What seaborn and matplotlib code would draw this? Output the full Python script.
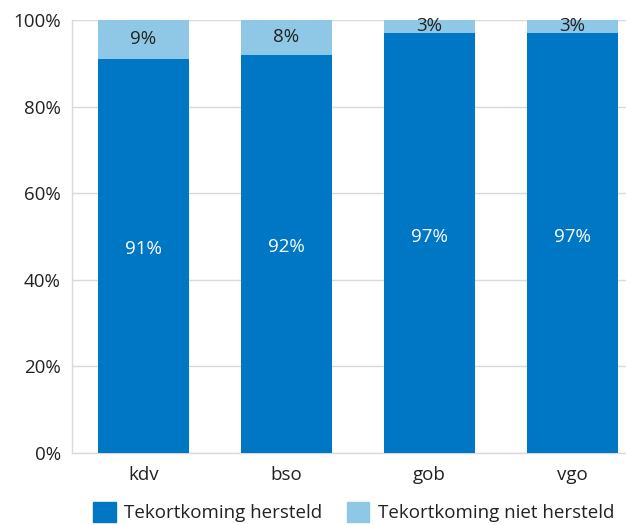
import pandas as pd
import seaborn as sns
import matplotlib.pyplot as plt
from matplotlib.patches import Patch

# Data
categories = ['kdv', 'bso', 'gob', 'vgo']
hersteld = [91, 92, 97, 97]
niet_hersteld = [9, 8, 3, 3]

dark = '#0077c4'
light = '#8ec8e6'

df = pd.DataFrame({'cat': categories, 'hersteld': hersteld, 'niet': niet_hersteld})
df['totaal'] = df['hersteld'] + df['niet']

sns.set_style('white')
plt.rcParams['font.family'] = ['Open Sans', 'DejaVu Sans']

fig = plt.figure(figsize=(6.26, 5.25), dpi=100)
ax = fig.add_axes([72 / 626, 72 / 525, (626 - 72) / 626, 433 / 525])

# stacked: draw total first (light), then hersteld on top (dark)
sns.barplot(data=df, x='cat', y='totaal', color=light, width=0.643, ax=ax, zorder=2,
            saturation=1, linewidth=0)
sns.barplot(data=df, x='cat', y='hersteld', color=dark, width=0.643, ax=ax, zorder=3,
            saturation=1, linewidth=0)

bot_bars = ax.containers[1]
for bar, h, n in zip(bot_bars, hersteld, niet_hersteld):
    x = bar.get_x() + bar.get_width() / 2
    ax.text(x, h / 2 + 1.5, f'{h}%', ha='center', va='center', color='white', fontsize=13.5, zorder=4)
    ax.text(x, h + n / 2, f'{n}%', ha='center', va='center', color='#222222', fontsize=13.5, zorder=4)

ax.set_xlim(-0.5, -0.5 + (626 - 72) / 143)
ax.set_ylim(0, 100)
ax.set_yticks(range(0, 101, 20))
ax.set_yticklabels([f'{v}%' for v in range(0, 101, 20)])
ax.set_xlabel('')
ax.set_ylabel('')
ax.tick_params(axis='both', length=0, labelsize=13.5, colors='#222222')
ax.tick_params(axis='x', pad=9)
ax.tick_params(axis='y', pad=8)
ax.yaxis.grid(True, color='#d9d9d9', linewidth=1, zorder=0)
ax.set_axisbelow(True)
for s in ['top', 'right']:
    ax.spines[s].set_visible(False)
for s in ['left', 'bottom']:
    ax.spines[s].set_color('#d9d9d9')
    ax.spines[s].set_linewidth(1)

handles = [Patch(color=dark, label='Tekortkoming hersteld'),
           Patch(color=light, label='Tekortkoming niet hersteld')]
fig.legend(handles=handles, loc='lower center', bbox_to_anchor=(0.565, -0.027), ncol=2,
           frameon=False, fontsize=13.5, handlelength=1.2, handleheight=1.2,
           columnspacing=1.3, handletextpad=0.45, labelcolor='#222222')

fig.savefig('out.png', dpi=100)
